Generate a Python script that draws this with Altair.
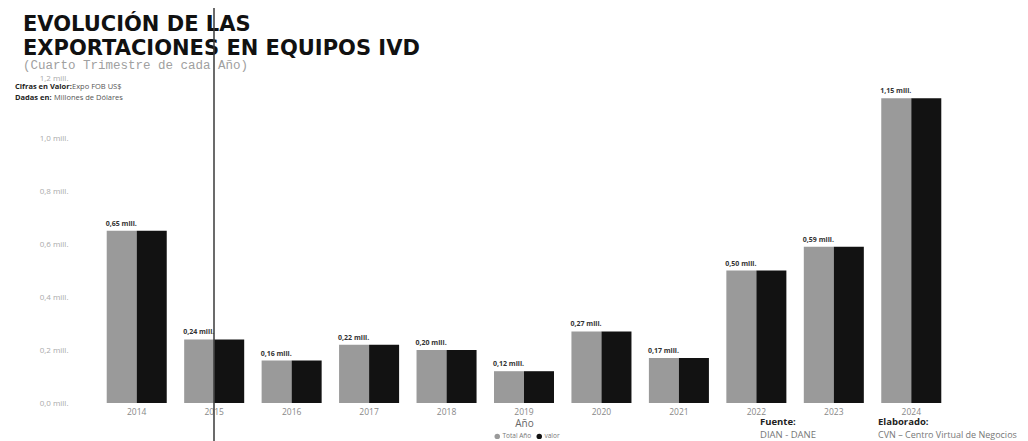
import altair as alt
import pandas as pd

# ---------------- data ----------------
years = ["2014", "2015", "2016", "2017", "2018", "2019", "2020", "2021", "2022", "2023", "2024"]
total_anio = [0.65, 0.24, 0.16, 0.22, 0.20, 0.12, 0.27, 0.17, 0.50, 0.59, 1.15]
valor = [0.65, 0.24, 0.16, 0.22, 0.20, 0.12, 0.27, 0.17, 0.50, 0.59, 1.15]
series_names = ["Total Año", "valor"]
series_colors = ["#9a9a9a", "#121212"]
y_tick_values = [0.0, 0.2, 0.4, 0.6, 0.8, 1.0, 1.2]


def mill(v):
    return f"{v:.2f}".replace(".", ",") + " mill."


records = []
for yr, t, v in zip(years, total_anio, valor):
    records.append({"Año": yr, "serie": series_names[0], "monto": t, "etiqueta": mill(t)})
    records.append({"Año": yr, "serie": series_names[1], "monto": v, "etiqueta": mill(v)})
df = pd.DataFrame(records)
one = pd.DataFrame({"k": [0]})

W, H = 852, 318
FONT = "Open Sans"

x_enc = alt.X(
    "Año:N", sort=years,
    scale=alt.Scale(paddingInner=0.225, paddingOuter=0.1125),
    axis=alt.Axis(title="Año", labelAngle=0, labelFontSize=8.5, labelColor="#888", labelFont=FONT,
                  labelPadding=4, ticks=False, domain=False, titleFont=FONT, titleFontSize=10,
                  titleFontWeight="normal", titleColor="#666", titlePadding=3),
)
x_off = alt.XOffset("serie:N", sort=series_names, scale=alt.Scale(paddingInner=0, paddingOuter=0))
y_enc = alt.Y(
    "monto:Q",
    scale=alt.Scale(domain=[0, 1.2], nice=False, zero=True),
    axis=alt.Axis(values=y_tick_values,
                  labelExpr="replace(format(datum.value, '.1f'), '.', ',') + ' mill.'",
                  labelOffset={"condition": {"test": "datum.value > 1.1", "value": -7}, "value": 0},
                  grid=False, domain=False, ticks=False, labelPadding=30, labelFontSize=8,
                  labelColor="#aaa", labelFont=FONT, title=None),
)
color_enc = alt.Color(
    "serie:N", sort=series_names,
    scale=alt.Scale(domain=series_names, range=series_colors),
    legend=alt.Legend(title=None, orient="none", legendX=396, legendY=348, direction="horizontal",
                      symbolType="circle", symbolSize=30, labelFontSize=6.5, labelColor="#777",
                      labelFont=FONT, columnPadding=4, symbolStrokeWidth=0, labelOffset=2),
)

base = alt.Chart(df)
bars = base.mark_bar().encode(x=x_enc, xOffset=x_off, y=y_enc, color=color_enc)
labels = base.transform_filter(alt.datum.serie == series_names[0]).mark_text(
    align="left", baseline="bottom", dx=-16, dy=-4, fontSize=7, fontWeight="bold",
    color="#333", font=FONT
).encode(x=x_enc, xOffset=x_off, y=y_enc, text="etiqueta:N")


def note(txt, x, y, size, weight="normal", color="#222", font=FONT, baseline="middle"):
    return alt.Chart(one).mark_text(
        text=txt, align="left", baseline=baseline, fontSize=size, fontWeight=weight,
        color=color, font=font
    ).encode(x=alt.value(x), y=alt.value(y))


notes = [
    note("EVOLUCIÓN DE LAS", -75, -54, 21, "bold", "#111", "DejaVu Sans", "alphabetic"),
    note("EXPORTACIONES EN EQUIPOS IVD", -75, -30, 21, "bold", "#111", "DejaVu Sans", "alphabetic"),
    note("(Cuarto Trimestre de cada Año)", -75, -20, 12.5, "normal", "#a0a0a0", "Liberation Mono"),
    note("Cifras en Valor:", -83, 2, 7.5, "bold", "#222"),
    note("Expo FOB US$", -26, 2, 7.5, "normal", "#555"),
    note("Dadas en:", -83, 13, 7.5, "bold", "#222"),
    note("Millones de Dólares", -44, 13, 7.5, "normal", "#555"),
    note("Fuente:", 662, 337, 9.5, "bold", "#222"),
    note("DIAN - DANE", 662, 350, 9.5, "normal", "#777"),
    note("Elaborado:", 780, 337, 9.5, "bold", "#222"),
    note("CVN – Centro Virtual de Negocios", 780, 350, 9, "normal", "#777"),
]

vline = alt.Chart(one).mark_rule(color="#3a3a3a", strokeWidth=1.5).encode(
    x=alt.value(116), y=alt.value(-85), y2=alt.value(360))
border = alt.Chart(one).mark_rule(color="#c8c8c8", strokeWidth=1, strokeDash=[1, 3]).encode(
    x=alt.value(-94), y=alt.value(-85), y2=alt.value(360))

chart = alt.layer(bars, labels, *notes, border, vline).properties(
    width=W, height=H,
    autosize=alt.AutoSizeParams(type="none"),
    padding={"left": 90, "top": 77, "right": 70, "bottom": 38},
    background="white",
).configure_view(stroke=None)

chart.save("out.html", embed_options={"renderer": "svg", "actions": False})
